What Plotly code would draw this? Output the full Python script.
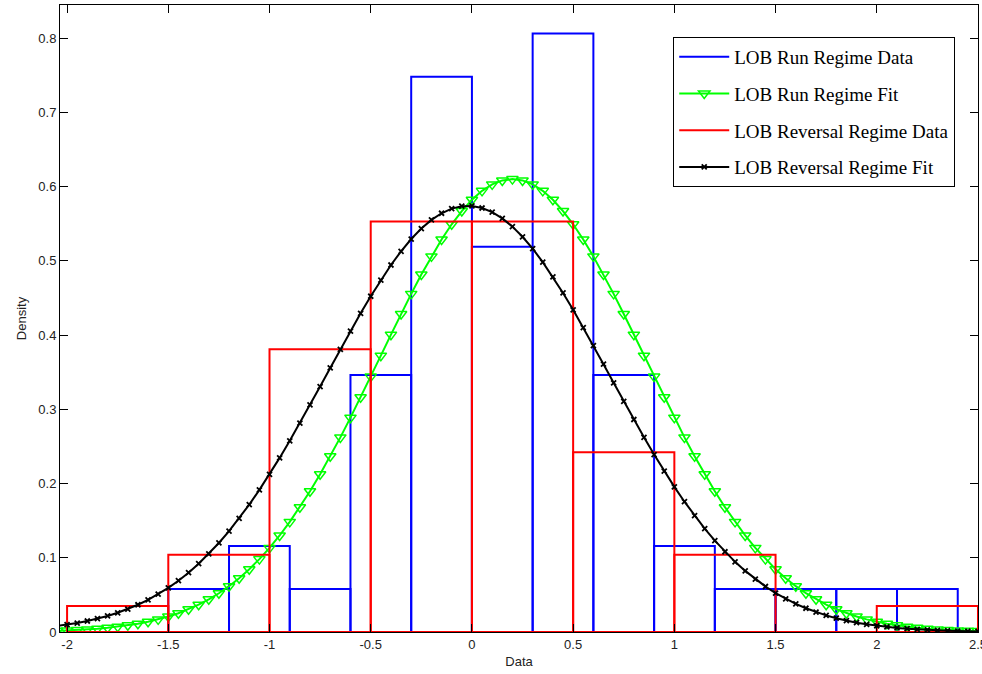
import numpy as np
import plotly.graph_objects as go

# ---------------- data ----------------
RUN_EDGES = [-1.5, -1.2, -0.9, -0.6, -0.3, 0.0, 0.3, 0.6, 0.9, 1.2, 1.5, 1.8, 2.1, 2.4]
RUN_DENSITY = [0.058, 0.116, 0.058, 0.346, 0.748, 0.519, 0.806, 0.346, 0.116, 0.058, 0.058, 0.058, 0.058]

REV_EDGES = [-2.0, -1.5, -1.0, -0.5, 0.0, 0.5, 1.0, 1.5, 2.0, 2.5]
REV_DENSITY = [0.035, 0.104, 0.381, 0.553, 0.553, 0.242, 0.104, 0.0, 0.035]

FIT_X = np.linspace(-2.05, 2.5, 92)

RUN_FIT = [
    0.0016, 0.0021, 0.0027, 0.0035, 0.0045, 0.0057, 0.0072, 0.0090, 0.0112, 0.0138,
    0.0170, 0.0208, 0.0253, 0.0306, 0.0368, 0.0440, 0.0522, 0.0617, 0.0725, 0.0846,
    0.0982, 0.1133, 0.1300, 0.1483, 0.1681, 0.1895, 0.2124, 0.2367, 0.2621, 0.2887,
    0.3161, 0.3440, 0.3722, 0.4005, 0.4283, 0.4554, 0.4814, 0.5059, 0.5286, 0.5491,
    0.5670, 0.5821, 0.5942, 0.6029, 0.6082, 0.6100, 0.6082, 0.6029, 0.5942, 0.5821,
    0.5670, 0.5491, 0.5286, 0.5059, 0.4814, 0.4554, 0.4283, 0.4005, 0.3722, 0.3440,
    0.3161, 0.2887, 0.2621, 0.2367, 0.2124, 0.1895, 0.1681, 0.1483, 0.1300, 0.1133,
    0.0982, 0.0846, 0.0725, 0.0617, 0.0522, 0.0440, 0.0368, 0.0306, 0.0253, 0.0208,
    0.0170, 0.0138, 0.0112, 0.0090, 0.0072, 0.0057, 0.0045, 0.0035, 0.0027, 0.0021,
    0.0016, 0.0013,
]

REV_FIT = [
    0.0081, 0.0099, 0.0121, 0.0148, 0.0179, 0.0216, 0.0259, 0.0309, 0.0367, 0.0433,
    0.0509, 0.0594, 0.0691, 0.0799, 0.0920, 0.1053, 0.1199, 0.1358, 0.1531, 0.1716,
    0.1914, 0.2124, 0.2345, 0.2575, 0.2813, 0.3058, 0.3306, 0.3557, 0.3806, 0.4052,
    0.4292, 0.4522, 0.4740, 0.4943, 0.5128, 0.5293, 0.5434, 0.5551, 0.5640, 0.5702,
    0.5735, 0.5738, 0.5711, 0.5655, 0.5571, 0.5460, 0.5323, 0.5163, 0.4982, 0.4782,
    0.4567, 0.4339, 0.4101, 0.3856, 0.3607, 0.3356, 0.3107, 0.2862, 0.2622, 0.2390,
    0.2167, 0.1955, 0.1755, 0.1567, 0.1392, 0.1230, 0.1081, 0.0945, 0.0823, 0.0712,
    0.0613, 0.0525, 0.0447, 0.0379, 0.0320, 0.0268, 0.0224, 0.0186, 0.0154, 0.0126,
    0.0103, 0.0084, 0.0068, 0.0055, 0.0044, 0.0035, 0.0028, 0.0022, 0.0017, 0.0013,
    0.0010, 0.0008,
]

X_TICKS = [-2, -1.5, -1, -0.5, 0, 0.5, 1, 1.5, 2, 2.5]
X_TICK_TEXT = ["-2", "-1.5", "-1", "-0.5", "0", "0.5", "1", "1.5", "2", "2.5"]
Y_TICKS = [0, 0.1, 0.2, 0.3, 0.4, 0.5, 0.6, 0.7, 0.8]
Y_TICK_TEXT = ["0", "0.1", "0.2", "0.3", "0.4", "0.5", "0.6", "0.7", "0.8"]

SERIES_NAMES = ["LOB Run Regime Data", "LOB Run Regime Fit",
                "LOB Reversal Regime Data", "LOB Reversal Regime Fit"]


def outline(edges, heights):
    xs, ys = [], []
    for i, h in enumerate(heights):
        l, r = edges[i], edges[i + 1]
        xs += [l, l, r, r, l, None]
        ys += [0, h, h, 0, 0, None]
    return xs, ys


fig = go.Figure()

rx, ry = outline(RUN_EDGES, RUN_DENSITY)
fig.add_trace(go.Scatter(x=rx, y=ry, mode="lines", name=SERIES_NAMES[0],
                         legendgroup="a",
                         line=dict(color="#0000ff", width=2)))
fig.add_trace(go.Scatter(x=FIT_X, y=RUN_FIT, mode="lines+markers", name=SERIES_NAMES[1],
                         legendgroup="b",
                         line=dict(color="#00ff00", width=2),
                         marker=dict(symbol="triangle-down-open", size=10,
                                     color="#00ff00", line=dict(width=1.5, color="#00ff00"))))
vx, vy = outline(REV_EDGES, REV_DENSITY)
fig.add_trace(go.Scatter(x=vx, y=vy, mode="lines", name=SERIES_NAMES[2],
                         legendgroup="c",
                         line=dict(color="#ff0000", width=2)))
fig.add_trace(go.Scatter(x=FIT_X, y=REV_FIT, mode="lines+markers", name=SERIES_NAMES[3],
                         legendgroup="d",
                         line=dict(color="#000000", width=2),
                         marker=dict(symbol="x-thin", size=5,
                                     color="#000000", line=dict(width=1.8, color="#000000"))))

axis_common = dict(
    showline=True, linecolor="#000000", linewidth=1, mirror="ticks",
    ticks="inside", ticklen=8, tickcolor="#000000", tickwidth=1,
    showgrid=False, zeroline=False, ticklabeloverflow="allow", automargin=False,
    tickfont=dict(family="Liberation Sans, Arial, sans-serif", size=13, color="#222222"),
)

fig.update_layout(
    width=982, height=674,
    margin=dict(l=60, r=4, t=5, b=42),
    paper_bgcolor="#ffffff", plot_bgcolor="#ffffff",
    xaxis=dict(range=[-2.035, 2.5001], tickvals=X_TICKS, ticktext=X_TICK_TEXT,
               title=dict(text="Data", standoff=6,
                          font=dict(family="Liberation Sans, Arial, sans-serif", size=13, color="#222222")),
               **axis_common),
    yaxis=dict(range=[0, 0.8445], tickvals=Y_TICKS, ticktext=Y_TICK_TEXT,
               title=dict(text="Density", standoff=8,
                          font=dict(family="Liberation Sans, Arial, sans-serif", size=13, color="#222222")),
               **axis_common),
    legend=dict(x=0.668, y=0.949, xanchor="left", yanchor="top",
                bgcolor="#ffffff", bordercolor="#000000", borderwidth=1,
                font=dict(family="Liberation Serif, Times New Roman, serif", size=19, color="#000000"),
                tracegroupgap=9, itemwidth=50),
    showlegend=True,
)

fig.write_html("out.html")
